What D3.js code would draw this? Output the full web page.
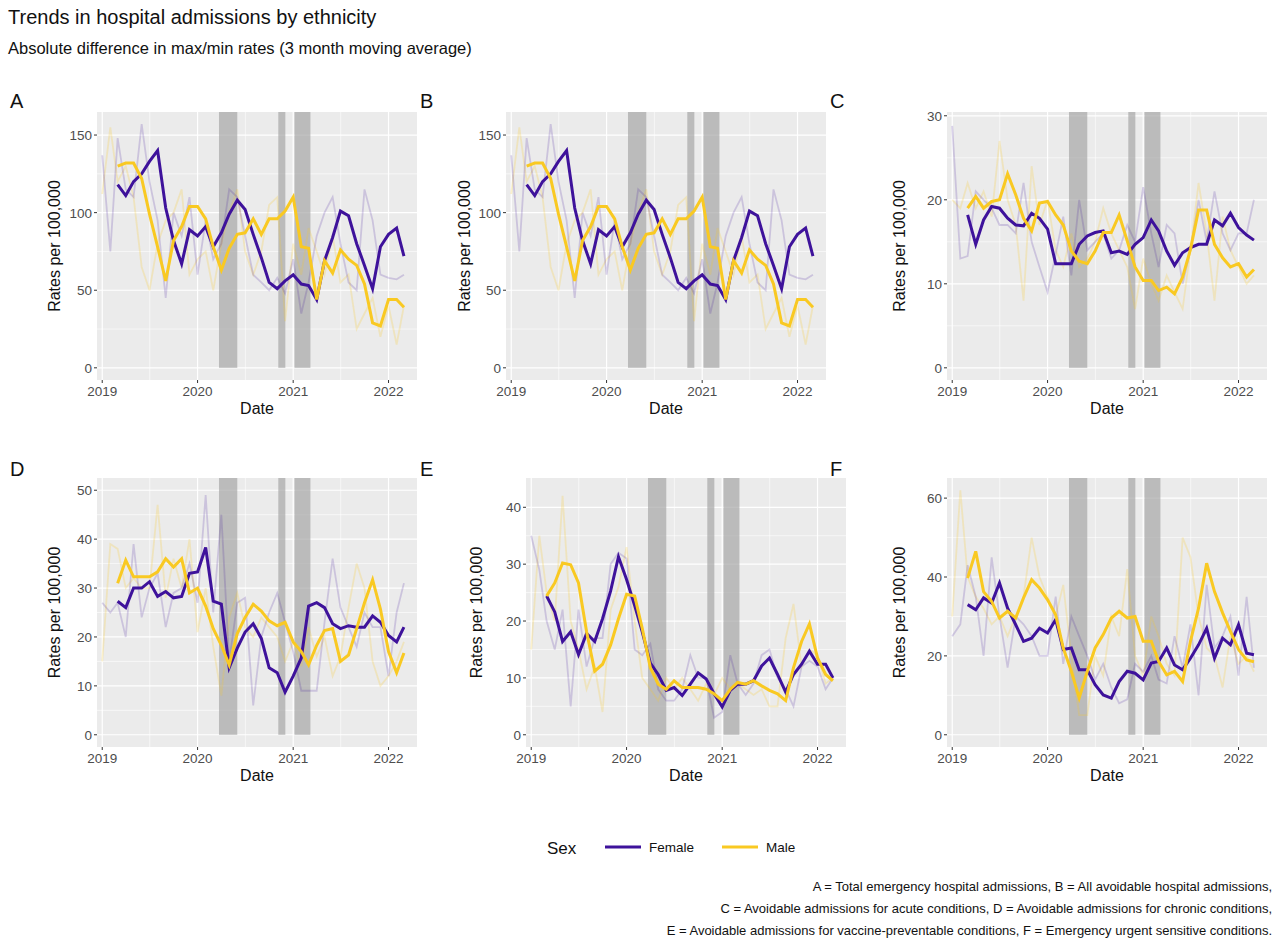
<!DOCTYPE html>
<html><head><meta charset="utf-8">
<script src="https://cdn.jsdelivr.net/npm/d3@7"></script>
<style>body{margin:0;background:#fff;font-family:"Liberation Sans",Arial,sans-serif}</style>
</head><body><svg id="c" width="1280" height="952"></svg>
<script>
const panelNames=["A","B","C","D","E","F"];
const yTicks=[[0,50,100,150],[0,50,100,150],[0,10,20,30],[0,10,20,30,40,50],[0,10,20,30,40],[0,20,40,60]];
const yMax=[157,157,29,50,43,62];
const xTicks=[2019,2020,2021,2022];
const lockdowns=[["2020-03-23","2020-06-01"],["2020-11-05","2020-12-02"],["2021-01-06","2021-03-08"]];
// 3-month moving averages, Mar 2019 - Mar 2022
const maFemaleA=[118,111,120,125,133,140,103,82,67,89,85,91,78,87,99,108,102,86,71,55,51,56,60,54,53,44,69,84,101,98,80,66,51,78,86,90,72];
const maMaleA=[130,132,132,122,99,78,56,82,91,104,104,96,78,63,77,86,87,96,86,96,96,101,110,78,77,44,69,61,76,70,66,54,29,27,44,44,39];
const rawFemaleA=[137,75,148,115,110,157,120,95,45,100,85,110,60,95,70,80,115,110,85,60,55,50,58,48,70,35,55,85,100,110,80,55,50,115,95,60,58,57,60];
const rawMaleA=[112,155,120,130,110,65,50,80,95,100,115,60,70,75,50,80,100,115,75,60,75,105,110,30,80,60,90,75,60,85,55,60,25,35,45,20,40,15,40];
const maFemaleC=[18.2,14.7,17.6,19.2,19,17.8,17,16.9,18.4,17.8,16.5,12.4,12.4,12.4,14.7,15.7,16.1,16.3,13.7,13.9,13.5,14.7,15.5,17.6,16.3,13.9,12.2,13.7,14.3,14.7,14.7,17.6,16.9,18.4,16.7,15.8,15.2];
const maMaleC=[19,20.4,19,19.8,20,23.1,20.6,17.8,16.3,19.6,19.8,18.2,17,13.9,12.7,12.4,13.9,16.1,16.1,18.2,15.1,12,10.4,10.4,9.2,9.6,8.8,10.8,14.1,18.8,18.8,14.7,13.1,12,12.4,10.8,11.7];
const rawFemaleC=[28.8,13,13.3,21,20,19,17,17,16,22,15,12,9,13.5,18,11,20,14,15,16,13,14,17,15,21.5,16,12,17,16,10,14,20,15,21,16,14,16,16,20];
const rawMaleC=[20,19,22,19,21,18,27,20,17,8,24,17,20,14,12,16,12,13,15,19,16,14,12,7,13,10,8,11,9,7,14,22,16,8,18,14,12,10,11];
const maFemaleD=[27.3,26,30,30,31.3,28.3,29.3,28,28.3,33,33.3,38.3,27.3,26.7,13.7,17.7,21,22.7,19.7,13.7,12.7,8.7,12,15.7,26.3,27,26,22.7,21.7,22.3,22,22,24.3,23,20.3,19,22];
const maMaleD=[31,35.7,32.3,32.3,32.3,33.3,36,34.3,36,29,30,26.3,21.7,18.3,14.3,20.7,24,26.7,25.3,23.3,22.3,23,19,17,14.3,18.3,21.3,21.7,15,16.3,21.7,27,31.7,25.7,17,12.7,16.7];
const rawFemaleD=[27,25,27,20,39,24,30,33,22,29,30,35,27,49,25,45,15,27,28,6,20,25,29,23,17,9,9,9,23,36,26,22,18,25,22,22,12,25,31];
const rawMaleD=[15,39,38,30,32,30,30,47,28,36,30,40,21,30,18,8,24,29,22,20,24,22,20,15,19,14,22,16,20,12,16,26,35,30,15,10,12,15,19];
const maFemaleE=[24.4,21.6,16.4,18.1,14.1,17.8,16.4,20.4,25.3,31.3,27.3,22.7,18.1,12.6,10.6,7.8,8.3,6.9,8.9,10.9,9.8,7.2,4.9,7.8,8.9,8.9,9.5,12.1,13.5,10.6,7.5,10.6,12.4,14.7,12.4,12.4,10];
const maMaleE=[24.4,26.7,30.2,29.9,26.7,18.1,11.2,12.4,15.8,20.4,24.7,24.4,18.7,11.8,8.9,8,9.5,8.3,8.3,8.3,8,7.2,6,8,9.2,8.9,9.5,8.6,7.8,7.2,6,11.8,16.4,19.5,13.5,10.6,9.5];
const rawFemaleE=[35,29,20,15,22,5,22,12,17,17,30,32,31,15,14,16,8,6,6,8,14,10,10,3,4,14,9,7,9,14,15,10,8,5,12,13,12,8,10];
const rawMaleE=[15,35,25,20,42,20,15,8,12,4,22,26,33,20,10,8,6,10,8,10,8,6,9,7,10,8,9,8,7,8,5,5,17,23,12,15,14,9,10];
const maFemaleF=[33,31.7,34.7,33.4,38.5,32.1,27.9,23.7,24.5,27,25.8,29.2,21.6,22,16.5,16.5,12.7,10.1,9.3,13.5,16.1,15.6,13.9,18.2,18.6,22,17.7,16.5,19.4,22.8,27,19.4,24.5,22.8,27.9,20.7,20.3];
const maMaleF=[39.7,46.5,36.3,33.8,29.6,31.3,29.6,34.7,39.3,37.2,34.2,30.4,22,16.1,9.3,16.1,22,25.4,29.6,31.3,29.6,30,23.7,23.7,18.6,15.2,16.1,13.5,23.7,32.1,43.5,36.3,30.9,26.2,21.6,19,18.5];
const rawFemaleF=[25,28,43,35,20,45,30,17,30,28,25,20,20,35,18,30,25,20,14,18,12,8,9,18,16,20,14,13,25,17,28,10,38,22,25,30,15,35,17];
const rawMaleF=[30,62,40,35,32,28,30,25,30,35,50,40,35,30,38,20,5,5,20,15,30,25,42,20,15,30,25,18,15,50,45,30,22,20,12,25,18,20,16];

const series=[
 [maFemaleA,maMaleA,rawFemaleA,rawMaleA],[maFemaleA,maMaleA,rawFemaleA,rawMaleA],
 [maFemaleC,maMaleC,rawFemaleC,rawMaleC],[maFemaleD,maMaleD,rawFemaleD,rawMaleD],
 [maFemaleE,maMaleE,rawFemaleE,rawMaleE],[maFemaleF,maMaleF,rawFemaleF,rawMaleF]];
const boxes=[
 {l:97,r:417,t:112,b:380,yl:60,lx:10,ly:108},{l:506,r:826,t:112,b:380,yl:470,lx:420,ly:108},
 {l:947,r:1267,t:112,b:380,yl:905,lx:830,ly:108},{l:97,r:417,t:478,b:747,yl:60,lx:10,ly:476},
 {l:526,r:846,t:478,b:747,yl:482,lx:420,ly:476},{l:947,r:1267,t:478,b:747,yl:905,lx:830,ly:476}];
const PUR="#3E129B",YEL="#F9C922";
const svg=d3.select("#c");
const T=s=>new Date(s+"T00:00:00");
const mdate=(start,i)=>new Date(2019,start+i,1);

svg.append("text").attr("x",8).attr("y",24).attr("font-size",20).attr("fill","#111").text("Trends in hospital admissions by ethnicity");
svg.append("text").attr("x",8).attr("y",54).attr("font-size",16.5).attr("fill","#111").text("Absolute difference in max/min rates (3 month moving average)");

boxes.forEach((bx,k)=>{
  const x=d3.scaleTime().domain([T("2018-12-12"),T("2022-04-20")]).range([bx.l,bx.r]);
  const m=yMax[k]; const y=d3.scaleLinear().domain([-0.05*m,m*1.05]).range([bx.b,bx.t]);
  const g=svg.append("g");
  g.append("rect").attr("x",bx.l).attr("y",bx.t).attr("width",bx.r-bx.l).attr("height",bx.b-bx.t).attr("fill","#EBEBEB");
  const yt=yTicks[k];
  const ym=yt.slice(1).map((v,i)=>(v+yt[i])/2);
  ym.forEach(v=>g.append("line").attr("x1",bx.l).attr("x2",bx.r).attr("y1",y(v)).attr("y2",y(v)).attr("stroke","#fff").attr("stroke-width",0.6));
  const xm=xTicks.slice(0,3).map(yr=>new Date(yr,6,2));
  xm.forEach(v=>g.append("line").attr("x1",x(v)).attr("x2",x(v)).attr("y1",bx.t).attr("y2",bx.b).attr("stroke","#fff").attr("stroke-width",0.6));
  yt.forEach(v=>{g.append("line").attr("x1",bx.l).attr("x2",bx.r).attr("y1",y(v)).attr("y2",y(v)).attr("stroke","#fff").attr("stroke-width",1.2);
    g.append("line").attr("x1",bx.l-3).attr("x2",bx.l).attr("y1",y(v)).attr("y2",y(v)).attr("stroke","#333");
    g.append("text").attr("x",bx.l-5).attr("y",y(v)+5).attr("text-anchor","end").attr("font-size",13.5).attr("fill","#4D4D4D").text(v);});
  xTicks.forEach(yr=>{const d=new Date(yr,0,1);
    g.append("line").attr("x1",x(d)).attr("x2",x(d)).attr("y1",bx.t).attr("y2",bx.b).attr("stroke","#fff").attr("stroke-width",1.2);
    g.append("line").attr("x1",x(d)).attr("x2",x(d)).attr("y1",bx.b).attr("y2",bx.b+3).attr("stroke","#333");
    g.append("text").attr("x",x(d)).attr("y",bx.b+16).attr("text-anchor","middle").attr("font-size",13.5).attr("fill","#4D4D4D").text(yr);});
  lockdowns.forEach(([a,b])=>g.append("rect").attr("x",x(T(a))).attr("width",x(T(b))-x(T(a)))
     .attr("y",y(m*1.05)).attr("height",y(0)-y(m*1.05)).attr("fill","#A6A6A6").attr("opacity",0.7));
  const [mf,mm,rf,rm]=series[k];
  const ln=(st)=>d3.line().x((d,i)=>x(mdate(st,i))).y(d=>y(d));
  g.append("path").attr("d",ln(0)(rm)).attr("fill","none").attr("stroke",YEL).attr("stroke-width",1.8).attr("opacity",0.22);
  g.append("path").attr("d",ln(0)(rf)).attr("fill","none").attr("stroke",PUR).attr("stroke-width",1.8).attr("opacity",0.18);
  g.append("path").attr("d",ln(2)(mf)).attr("fill","none").attr("stroke",PUR).attr("stroke-width",3);
  g.append("path").attr("d",ln(2)(mm)).attr("fill","none").attr("stroke",YEL).attr("stroke-width",3);
  g.append("text").attr("x",bx.lx).attr("y",bx.ly).attr("font-size",20).attr("fill","#111").text(panelNames[k]);
  g.append("text").attr("transform",`translate(${bx.yl},${(bx.t+bx.b)/2}) rotate(-90)`).attr("text-anchor","middle").attr("font-size",16).attr("fill","#111").text("Rates per 100,000");
  g.append("text").attr("x",(bx.l+bx.r)/2).attr("y",bx.b+34).attr("text-anchor","middle").attr("font-size",16).attr("fill","#111").text("Date");
});
// legend
const lg=svg.append("g");
lg.append("text").attr("x",547).attr("y",854).attr("font-size",17).attr("fill","#111").text("Sex");
[["Female",PUR,605],["Male",YEL,722]].forEach(([t,c,x0])=>{
  lg.append("line").attr("x1",x0).attr("x2",x0+36).attr("y1",847).attr("y2",847).attr("stroke",c).attr("stroke-width",3);
  lg.append("text").attr("x",x0+44).attr("y",852).attr("font-size",13.5).attr("fill","#111").text(t);});
const caps=["A = Total emergency hospital admissions, B = All avoidable hospital admissions,",
 "C = Avoidable admissions for acute conditions, D = Avoidable admissions for chronic conditions,",
 "E = Avoidable admissions for vaccine-preventable conditions, F = Emergency urgent sensitive conditions."];
caps.forEach((c,i)=>svg.append("text").attr("x",1272).attr("y",891+i*22).attr("text-anchor","end").attr("font-size",13).attr("fill","#111").text(c));
</script></body></html>
